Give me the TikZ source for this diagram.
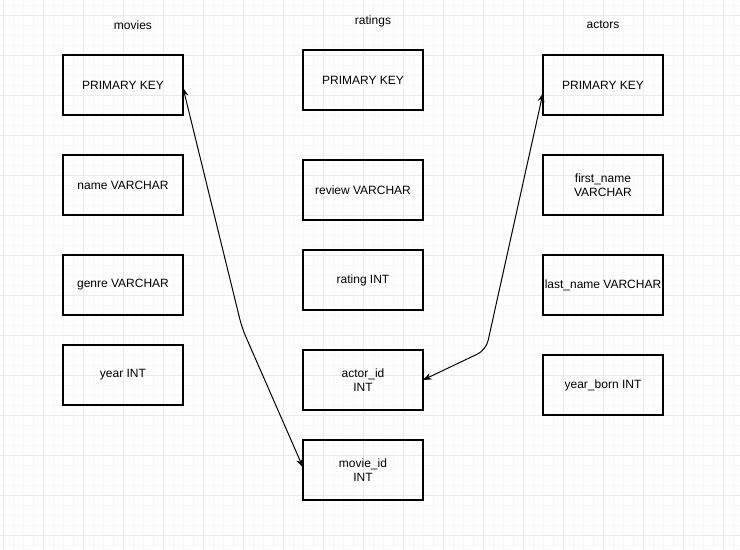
\documentclass[tikz,border=0pt]{standalone}
\usepackage{fontspec}
\setmainfont{Liberation Sans}
\usepackage{tikz}
\usetikzlibrary{arrows.meta, positioning}

\definecolor{gridminor}{HTML}{F7F7F7}
\definecolor{gridmajor}{HTML}{EAEAEA}

\begin{document}
\begin{tikzpicture}[
    x=0.75pt, y=-0.75pt,
    every node/.style={font=\fontsize{9}{10.5}\selectfont, align=center},
    tbl/.style={rectangle, draw=black, line width=0.8pt, minimum width=90pt, minimum height=45pt, inner sep=0.5pt, outer sep=0pt, text centered},
    title/.style={inner sep=0pt},
    link/.style={<->, >={Stealth[length=6.5pt, width=5pt]}, line width=0.75pt, rounded corners=7pt}
]
\useasboundingbox (0,0) rectangle (740,550);

% background grid
\foreach \x in {3,13,...,733} \draw[gridminor, line width=0.4pt] (\x,0) -- (\x,550);
\foreach \y in {5,15,...,545} \draw[gridminor, line width=0.4pt] (0,\y) -- (740,\y);
\foreach \x in {3,43,...,723} \draw[gridmajor, line width=0.6pt] (\x,0) -- (\x,550);
\foreach \y in {15,55,...,535} \draw[gridmajor, line width=0.6pt] (0,\y) -- (740,\y);

% table titles
\node[title] (tmovies) at (133,25) {movies};
\node[title] (tratings) at (373,21) {ratings};
\node[title] (tactors) at (603,25) {actors};

% movies
\node[tbl] (mpk) at (123,85) {PRIMARY KEY};
\node[tbl, below=30pt of mpk] (mname) {name VARCHAR};
\node[tbl, below=30pt of mname] (mgenre) {genre VARCHAR};
\node[tbl, below=22.5pt of mgenre] (myear) {year INT};

% ratings
\node[tbl] (rpk) at (363,80) {PRIMARY KEY};
\node[tbl, below=37.5pt of rpk] (rreview) {review VARCHAR};
\node[tbl, below=22.5pt of rreview] (rrating) {rating INT};
\node[tbl, below=30pt of rrating] (ractor) {actor\_id\\INT};
\node[tbl, below=22.5pt of ractor] (rmovie) {movie\_id\\INT};

% actors
\node[tbl] (apk) at (603,85) {PRIMARY KEY};
\node[tbl, below=30pt of apk] (afirst) {first\_name\\VARCHAR};
\node[tbl, below=30pt of afirst] (alast) {last\_name VARCHAR};
\node[tbl, below=30pt of alast] (aborn) {year\_born INT};

% foreign keys
\coordinate (mbend) at (242,328);
\coordinate (abend) at (486,350);
\draw[link] ([yshift=-2pt]mpk.east) -- (mbend) -- ([yshift=2pt]rmovie.west);
\draw[link] (ractor.east) -- (abend) -- ([yshift=-6pt]apk.west);

\end{tikzpicture}
\end{document}
